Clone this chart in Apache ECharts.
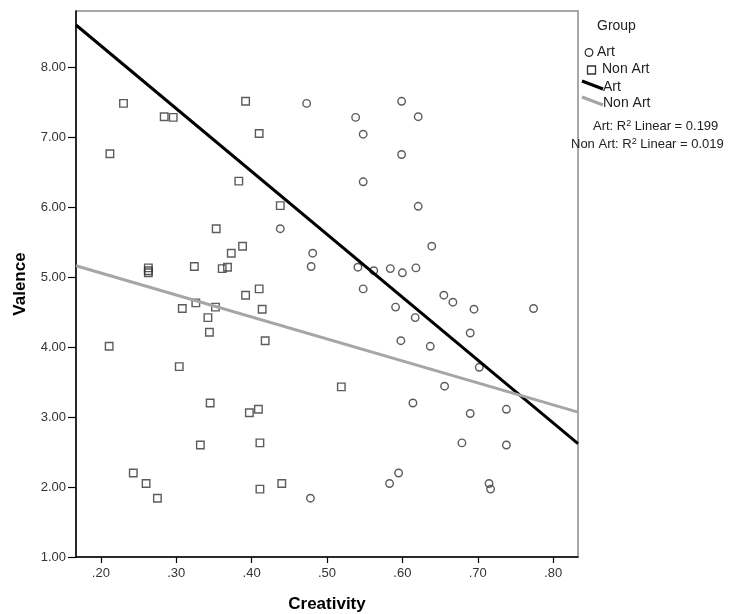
<!DOCTYPE html>
<html>
<head>
<meta charset="utf-8">
<script src="https://cdn.jsdelivr.net/npm/echarts@6/dist/echarts.min.js"></script>
<style>
  html, body { margin: 0; padding: 0; background: #fff; }
  #chart { width: 740px; height: 614px; }
</style>
</head>
<body>
<div id="chart"></div>
<script>
// values
var artPoints = [
  [0.473, 7.48], [0.599, 7.51], [0.538, 7.28], [0.621, 7.29], [0.548, 7.04],
  [0.599, 6.75], [0.548, 6.36], [0.621, 6.01], [0.438, 5.69], [0.481, 5.34],
  [0.479, 5.15], [0.639, 5.44], [0.541, 5.14], [0.562, 5.09], [0.584, 5.12],
  [0.600, 5.06], [0.618, 5.13], [0.548, 4.83], [0.655, 4.74], [0.667, 4.64],
  [0.695, 4.54], [0.774, 4.55], [0.591, 4.57], [0.617, 4.42], [0.690, 4.20],
  [0.598, 4.09], [0.637, 4.01], [0.702, 3.71], [0.656, 3.44], [0.614, 3.20],
  [0.690, 3.05], [0.738, 3.11], [0.679, 2.63], [0.738, 2.60], [0.595, 2.20],
  [0.583, 2.05], [0.715, 2.05], [0.717, 1.97], [0.478, 1.84]
];
var nonArtPoints = [
  [0.230, 7.48], [0.284, 7.29], [0.296, 7.28], [0.392, 7.51], [0.410, 7.05],
  [0.212, 6.76], [0.383, 6.37], [0.438, 6.02], [0.353, 5.69], [0.388, 5.44],
  [0.373, 5.34], [0.324, 5.15], [0.263, 5.13], [0.263, 5.09], [0.263, 5.06],
  [0.361, 5.12], [0.368, 5.14], [0.410, 4.83], [0.392, 4.74], [0.326, 4.63],
  [0.308, 4.55], [0.352, 4.57], [0.414, 4.54], [0.342, 4.42], [0.344, 4.21],
  [0.418, 4.09], [0.211, 4.01], [0.304, 3.72], [0.345, 3.20], [0.519, 3.43],
  [0.397, 3.06], [0.409, 3.11], [0.332, 2.60], [0.411, 2.63], [0.243, 2.20],
  [0.260, 2.05], [0.275, 1.84], [0.411, 1.97], [0.440, 2.05]
];
// fit lines, ends at the frame edges
var artFit = [[0.167, 8.60], [0.833, 2.62]];
var nonArtFit = [[0.167, 5.16], [0.833, 3.07]];

var xTicks = [0.2, 0.3, 0.4, 0.5, 0.6, 0.7, 0.8];
var yTicks = [1, 2, 3, 4, 5, 6, 7, 8];
var xRange = [0.167, 0.833];
var yRange = [1, 8.8];

var myChart = echarts.init(document.getElementById("chart"));
var font = "Liberation Sans, Arial, sans-serif";
var option;

option = {
  backgroundColor: "#fff",
  animation: false,
  grid: {
    left: 76,
    right: 162,
    top: 11,
    bottom: 57,
    outerBoundsMode: "none",
    containLabel: false,
    show: true,
    borderColor: "#8c8c8c",
    borderWidth: 1.5
  },
  xAxis: {
    type: "value",
    min: xRange[0],
    max: xRange[1],
    name: "Creativity",
    nameLocation: "middle",
    nameGap: 39,
    nameTextStyle: { fontFamily: font, fontSize: 17, fontWeight: "bold", color: "#000" },
    axisLine: { show: true, lineStyle: { color: "#000", width: 1.5 } },
    axisTick: { show: true, length: 6, customValues: xTicks, lineStyle: { color: "#000", width: 1.2 } },
    axisLabel: {
      customValues: xTicks,
      margin: 10,
      fontFamily: font,
      fontSize: 13,
      color: "#333",
      formatter: function (v) {
        return v.toFixed(2).replace(/^0/, "");
      }
    },
    splitLine: { show: false }
  },
  yAxis: {
    type: "value",
    min: yRange[0],
    max: yRange[1],
    name: "Valence",
    nameLocation: "middle",
    nameGap: 47,
    nameRotate: 90,
    nameTextStyle: { fontFamily: font, fontSize: 17, fontWeight: "bold", color: "#000" },
    axisLine: { show: true, lineStyle: { color: "#000", width: 1.5 } },
    axisTick: { show: true, length: 8, customValues: yTicks, lineStyle: { color: "#000", width: 1.2 } },
    axisLabel: {
      customValues: yTicks,
      margin: 10,
      fontFamily: font,
      fontSize: 13,
      color: "#333",
      formatter: function (v) {
        return v.toFixed(2);
      }
    },
    splitLine: { show: false }
  },
  series: [
    {
      name: "Art",
      type: "scatter",
      symbol: "circle",
      symbolSize: 7.5,
      itemStyle: { color: "rgba(0,0,0,0)", borderColor: "#333", borderWidth: 1.4 },
      data: artPoints
    },
    {
      name: "Non Art",
      type: "scatter",
      symbol: "rect",
      symbolSize: 7.5,
      itemStyle: { color: "rgba(0,0,0,0)", borderColor: "#333", borderWidth: 1.4 },
      data: nonArtPoints
    },
    {
      name: "Art fit",
      type: "line",
      showSymbol: false,
      lineStyle: { color: "#000", width: 3 },
      data: artFit,
      z: 3
    },
    {
      name: "Non Art fit",
      type: "line",
      showSymbol: false,
      lineStyle: { color: "#a6a6a6", width: 3 },
      data: nonArtFit,
      z: 3
    }
  ],
  graphic: [
    // legend on the right
    { type: "text", left: 597, top: 19, style: { text: "Group", fontFamily: font, fontSize: 14, fill: "#222" } },
    { type: "circle", shape: { cx: 589, cy: 52.5, r: 3.8 }, style: { fill: "none", stroke: "#333", lineWidth: 1.3 } },
    { type: "text", left: 597, top: 45, style: { text: "Art", fontFamily: font, fontSize: 14, fill: "#222" } },
    { type: "rect", shape: { x: 587.5, y: 66, width: 8, height: 8 }, style: { fill: "none", stroke: "#333", lineWidth: 1.3 } },
    { type: "text", left: 602, top: 62, style: { text: "Non Art", fontFamily: font, fontSize: 14, fill: "#222" } },
    { type: "line", shape: { x1: 582, y1: 81, x2: 603, y2: 89 }, style: { stroke: "#000", lineWidth: 3 } },
    { type: "text", left: 603, top: 80, style: { text: "Art", fontFamily: font, fontSize: 14, fill: "#222" } },
    { type: "line", shape: { x1: 582, y1: 97, x2: 603, y2: 105 }, style: { stroke: "#a6a6a6", lineWidth: 3 } },
    { type: "text", left: 603, top: 96, style: { text: "Non Art", fontFamily: font, fontSize: 14, fill: "#222" } },
    {
      type: "text", left: 593, top: 119,
      style: {
        text: "Art: R{sup|2} Linear = 0.199",
        fontFamily: font, fontSize: 13, fill: "#222",
        rich: { sup: { fontSize: 9, verticalAlign: "top", padding: [0, 0, 6, 0], fontFamily: font, fill: "#222" } }
      }
    },
    {
      type: "text", left: 571, top: 137,
      style: {
        text: "Non Art: R{sup|2} Linear = 0.019",
        fontFamily: font, fontSize: 13, fill: "#222",
        rich: { sup: { fontSize: 9, verticalAlign: "top", padding: [0, 0, 6, 0], fontFamily: font, fill: "#222" } }
      }
    }
  ]
};

option && myChart.setOption(option);
</script>
</body>
</html>
